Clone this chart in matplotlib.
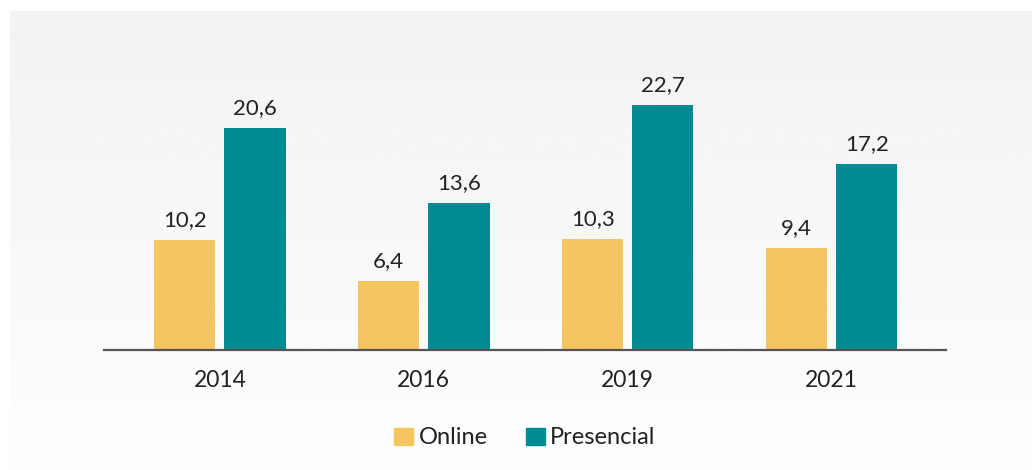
import numpy as np
import matplotlib.pyplot as plt
from matplotlib.patches import Patch

plt.rcParams['font.family'] = ['Lato', 'DejaVu Sans']

years = ["2014", "2016", "2019", "2021"]
online = [10.2, 6.4, 10.3, 9.4]
presencial = [20.6, 13.6, 22.7, 17.2]

c_online = "#f5c560"
c_pres = "#008b93"
txt = "#222222"

fig = plt.figure(figsize=(10.32, 4.70), dpi=100)

# fondo con degradado
bg = fig.add_axes([10 / 1032, 0, 1 - 10 / 1032, 1 - 11 / 470])
grad = np.linspace(0.95, 0.995, 256).reshape(-1, 1)
bg.imshow(grad, aspect="auto", cmap="gray", vmin=0, vmax=1, origin="upper")
bg.axis("off")

ax = fig.add_axes([104 / 1032, 1 - 349.5 / 470, (946 - 104) / 1032, 320 / 470])
ax.patch.set_alpha(0)

x = np.arange(len(years))
w = 0.3
b1 = ax.bar(x - 0.172, online, w, color=c_online)
b2 = ax.bar(x + 0.172, presencial, w, color=c_pres)

for bars, vals in ((b1, online), (b2, presencial)):
    for r, v in zip(bars, vals):
        ax.annotate(f"{v:.1f}".replace(".", ","),
                    (r.get_x() + r.get_width() / 2, r.get_height()),
                    xytext=(0, 7), textcoords="offset points",
                    ha="center", va="bottom", fontsize=16, color=txt)

ax.set_xlim(-0.568, 3.56)
ax.set_ylim(0, 320 / 10.77)
ax.set_xticks(x)
ax.set_xticklabels(years, fontsize=16.5, color=txt)
ax.tick_params(axis="x", length=0, pad=15)
ax.set_yticks([])
for s in ("top", "right", "left"):
    ax.spines[s].set_visible(False)
ax.spines["bottom"].set_color("#555555")
ax.spines["bottom"].set_linewidth(1.6)

handles = [Patch(color=c_online, label="Online"), Patch(color=c_pres, label="Presencial")]
fig.legend(handles=handles, loc="center", bbox_to_anchor=(525 / 1032, 1 - 438 / 470),
           ncol=2, frameon=False, fontsize=17, handlelength=0.8, handleheight=0.74,
           handletextpad=0.24, columnspacing=1.6, labelcolor=txt)

fig.savefig("out.png", dpi=100)
